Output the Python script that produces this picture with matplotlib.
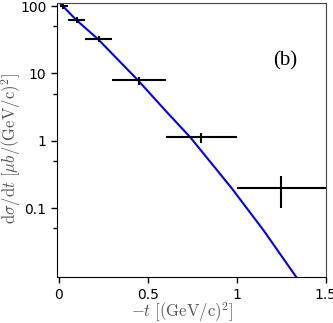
import matplotlib
matplotlib.use('Agg')
import matplotlib.pyplot as plt
from matplotlib.ticker import FixedLocator, FixedFormatter, NullFormatter

plt.rcParams['mathtext.fontset'] = 'cm'

# data points (-t, dsigma/dt) with errors
t_pts = [0.025, 0.1, 0.225, 0.45, 0.8, 1.25]
t_lo = [0.02, 0.05, 0.075, 0.15, 0.2, 0.25]
t_hi = [0.025, 0.05, 0.075, 0.15, 0.2, 0.3]
xs_pts = [100, 62, 32.5, 7.9, 1.12, 0.2]
xs_err = [8, 6, 3, 1.1, 0.2, 0.1]

# model curve
t_curve = [0.0, 0.1, 0.22, 0.446, 0.6, 0.74, 0.97, 1.15, 1.335]
xs_curve = [116, 62, 32.5, 7.9, 2.8, 1.12, 0.2, 0.047, 0.0094]

fig = plt.figure(figsize=(3.33, 3.23), dpi=100)
ax = fig.add_axes([0.171, 0.142, 0.807, 0.849])

ax.plot(t_curve, xs_curve, color='blue', lw=1.5)
ax.errorbar(t_pts, xs_pts, xerr=[t_lo, t_hi], yerr=xs_err, fmt='none',
            ecolor='black', elinewidth=1.5, capsize=0)

ax.set_yscale('log')
ax.set_xlim(-0.01, 1.5)
ax.set_ylim(0.0094, 112)

ax.yaxis.set_major_locator(FixedLocator([0.1, 1, 10, 100]))
ax.yaxis.set_major_formatter(FixedFormatter(['0.1', '1', '10', '100']))
ax.yaxis.set_minor_locator(FixedLocator([0.05, 0.5, 5, 50]))
ax.yaxis.set_minor_formatter(NullFormatter())
ax.set_xticks([0, 0.5, 1, 1.5])
ax.set_xticklabels(['0', '0.5', '1', '1.5'])

ax.tick_params(which='both', direction='out', labelsize=10, width=1)
ax.tick_params(which='major', length=4)
ax.tick_params(which='minor', length=3)
for s in ['top', 'right']:
    ax.spines[s].set_color('#444444')

ax.set_xlabel(r'$-t\ [(\mathrm{GeV/c})^2]$', fontsize=12, color='#555555')
ax.set_ylabel(r'$\mathrm{d}\sigma/\mathrm{d}t\ [\mu b/(\mathrm{GeV/c})^2]$', fontsize=12,
              color='#555555')
ax.xaxis.set_label_coords(0.465, -0.085)
ax.yaxis.set_label_coords(-0.127, 0.47)

ax.text(0.85, 0.79, '(b)', transform=ax.transAxes, ha='center', va='center',
        fontsize=15, family='Liberation Serif')

fig.savefig('out.png', dpi=100)
